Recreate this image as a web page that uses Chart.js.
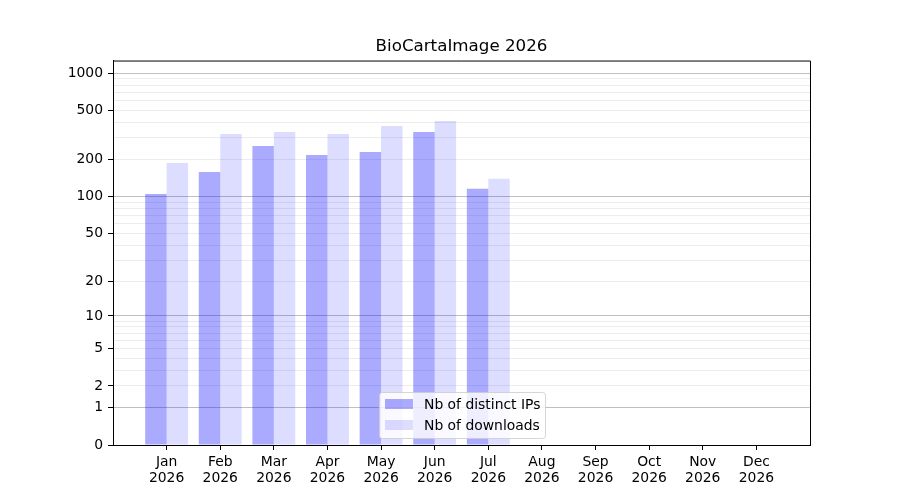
<!DOCTYPE html>
<html>
<head>
<meta charset="utf-8">
<script src="https://cdn.jsdelivr.net/npm/chart.js@4/dist/chart.umd.min.js"></script>
<style>
  html, body { margin: 0; padding: 0; background: #fff; }
  #wrap { width: 900px; height: 500px; }
</style>
</head>
<body>
<div id="wrap"><canvas id="chart" width="900" height="500"></canvas></div>
<script>
const months = ['Jan', 'Feb', 'Mar', 'Apr', 'May', 'Jun', 'Jul', 'Aug', 'Sep', 'Oct', 'Nov', 'Dec'];
const year = '2026';
const distinctIps = [105, 159, 258, 218, 231, 335, 116];
const downloads = [188, 323, 335, 323, 375, 412, 140];
const yTickLabels = [0, 1, 2, 5, 10, 20, 50, 100, 200, 500, 1000];
const yDecades = [1, 10, 100, 1000];
const yMax = 1268;

// minor grid values 1..9, 10..90, 100..900, 1000
const yGridValues = [0];
for (const d of [1, 10, 100]) {
    for (let k = 1; k < 10; k++) yGridValues.push(k * d);
}
yGridValues.push(1000);

// y axis drawn as log10(1 + value), like the reference
class Log1pScale extends Chart.LinearScale {
    static id = 'log1p';
    static defaults = {};

    determineDataLimits() {
        this.min = 0;
        this.max = this.options.max;
    }

    buildTicks() {
        return yGridValues.map(v => ({ value: v }));
    }

    getPixelForValue(value) {
        const top = Math.log10(1 + this.max);
        return this.getPixelForDecimal(Math.log10(1 + value) / top);
    }

    getValueForPixel(pixel) {
        const top = Math.log10(1 + this.max);
        return Math.pow(10, this.getDecimalForPixel(pixel) * top) - 1;
    }
}
Chart.register(Log1pScale);

Chart.defaults.font.family = 'DejaVu Sans';
Chart.defaults.font.size = 13.9;
Chart.defaults.color = '#000';

const frame = {
    id: 'frame',
    afterDatasetsDraw(chart) {
        const { ctx, chartArea: a } = chart;
        ctx.save();
        ctx.strokeStyle = '#000';
        ctx.lineWidth = 1;
        ctx.beginPath();
        ctx.moveTo(a.left, a.top + 0.5);
        ctx.lineTo(a.right + 0.5, a.top + 0.5);
        ctx.lineTo(a.right + 0.5, a.bottom);
        ctx.stroke();
        ctx.restore();
    }
};

const innerLegend = {
    id: 'innerLegend',
    afterDraw(chart) {
        const { ctx, chartArea: a } = chart;
        const w = 166, h = 46;
        const x = Math.round((a.left + a.right) / 2 - w / 2);
        const y = Math.round(a.bottom - 7 - h);
        ctx.save();
        ctx.beginPath();
        ctx.roundRect(x + 0.5, y + 0.5, w, h, 3);
        ctx.fillStyle = 'rgba(255,255,255,0.8)';
        ctx.fill();
        ctx.strokeStyle = 'rgba(204,204,204,0.8)';
        ctx.lineWidth = 1;
        ctx.stroke();
        ctx.font = '13.9px "DejaVu Sans"';
        ctx.textBaseline = 'middle';
        chart.data.datasets.forEach((ds, i) => {
            const cy = y + 12 + i * 21;
            ctx.fillStyle = ds.backgroundColor;
            ctx.fillRect(x + 6, cy - 5, 28, 10);
            ctx.fillStyle = '#000';
            ctx.fillText(ds.label, x + 45, cy + 1);
        });
        ctx.restore();
    }
};

new Chart(document.getElementById('chart'), {
    type: 'bar',
    data: {
        datasets: [{
            label: 'Nb of distinct IPs',
            data: distinctIps.map((v, i) => ({ x: i, y: v })),
            backgroundColor: 'rgba(0,0,255,0.333)',
            borderWidth: 0
        }, {
            label: 'Nb of downloads',
            data: downloads.map((v, i) => ({ x: i, y: v })),
            backgroundColor: 'rgba(0,0,255,0.133)',
            borderWidth: 0
        }]
    },
    options: {
        responsive: false,
        animation: false,
        categoryPercentage: 0.8,
        barPercentage: 1.0,
        layout: { padding: { left: 0, right: 90, top: 0, bottom: 0 } },
        plugins: {
            legend: { display: false },
            tooltip: { enabled: false },
            title: {
                display: true,
                fullSize: false,
                text: 'BioCartaImage ' + year,
                font: { size: 16.7, weight: 'normal' },
                color: '#000',
                padding: { top: 37, bottom: 3.5 }
            }
        },
        scales: {
            x: {
                type: 'linear',
                min: -1,
                max: 12,
                offset: false,
                afterBuildTicks: scale => {
                    scale.ticks = months.map((m, i) => ({ value: i }));
                },
                afterFit: scale => { scale.height = 55; },
                ticks: {
                    autoSkip: false,
                    maxRotation: 0,
                    padding: 5,
                    font: { lineHeight: 1.1 },
                    callback: v => [months[v], year]
                },
                grid: { offset: false, drawOnChartArea: false, tickLength: 5, tickColor: '#000' },
                border: { color: '#000' }
            },
            y: {
                type: 'log1p',
                max: yMax,
                afterFit: scale => { scale.width = 113; },
                ticks: {
                    autoSkip: false,
                    padding: 5,
                    callback: v => yTickLabels.includes(v) ? String(v) : ''
                },
                grid: {
                    tickLength: 5,
                    color: c => {
                        const v = c.tick ? c.tick.value : 0;
                        if (v === 0) return 'rgba(0,0,0,0)';
                        return yDecades.includes(v) ? 'rgba(0,0,0,0.25)' : 'rgba(0,0,0,0.075)';
                    },
                    tickColor: c => (c.tick && yTickLabels.includes(c.tick.value)) ? '#000' : 'rgba(0,0,0,0)'
                },
                border: { color: '#000' }
            }
        }
    },
    plugins: [frame, innerLegend]
});
</script>
</body>
</html>
